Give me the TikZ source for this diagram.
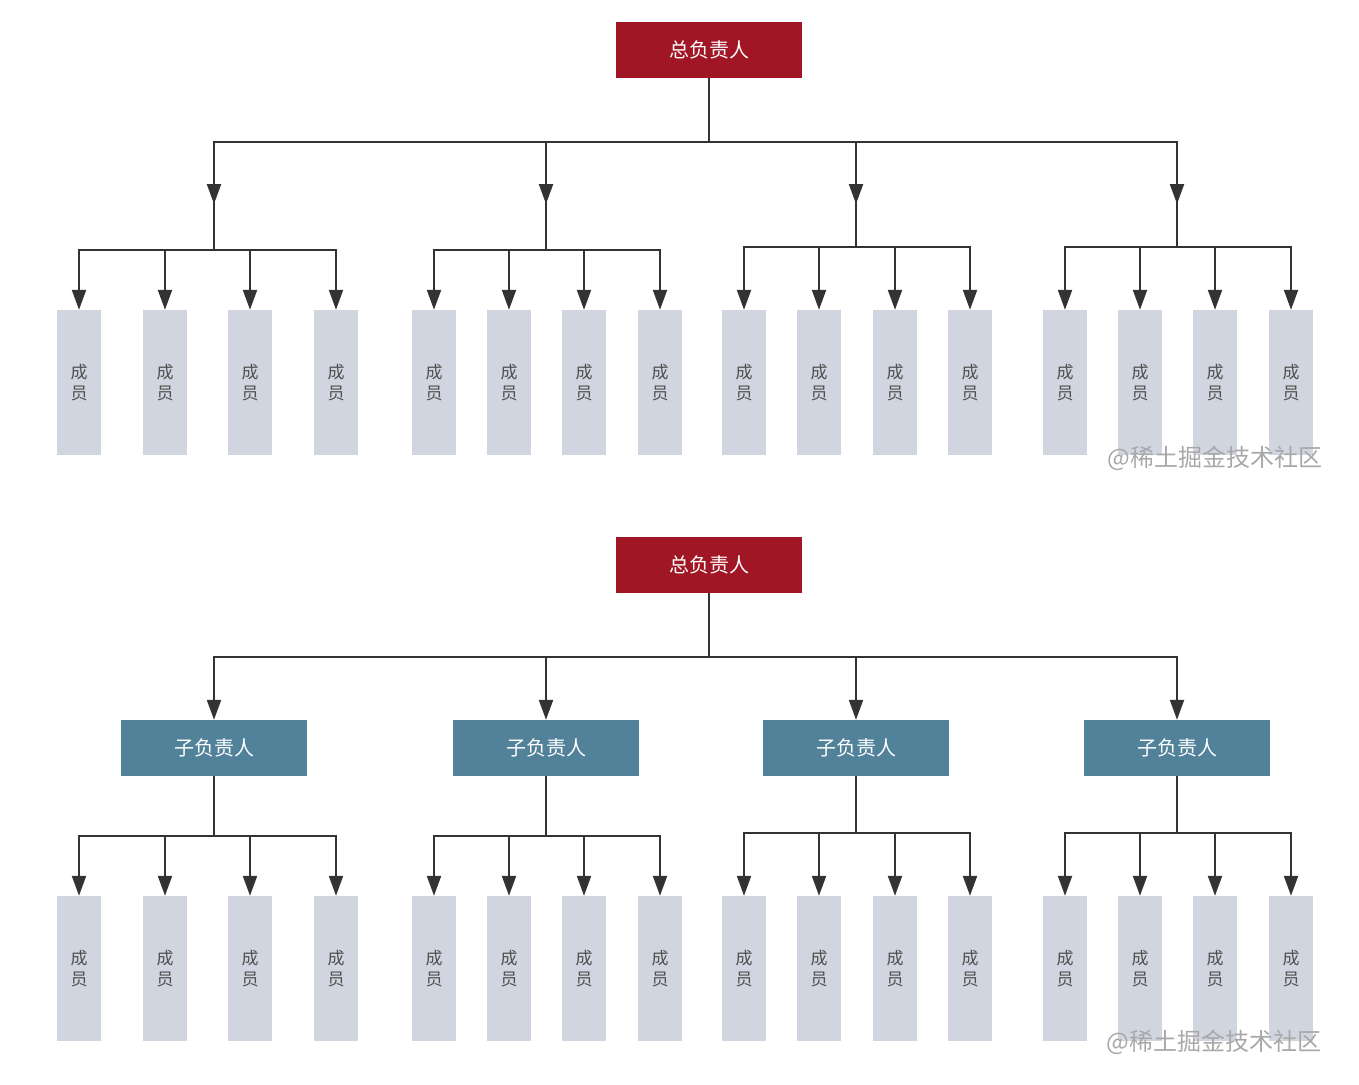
\documentclass[tikz,border=0pt]{standalone}
\usepackage{fontspec}
\newfontfamily\cjk{Noto Sans CJK SC}
\usetikzlibrary{arrows.meta}
\definecolor{rootred}{HTML}{A01624}
\definecolor{subteal}{HTML}{52819A}
\definecolor{memgray}{HTML}{D0D5DF}
\definecolor{linegray}{HTML}{333333}
\definecolor{memtext}{HTML}{505050}
\definecolor{wmark}{HTML}{A8A8A8}
\tikzset{
  rootbox/.style={fill=rootred, draw=none, minimum width=186pt, minimum height=56pt, inner sep=0pt, text=white, font=\cjk\fontsize{20}{24}\selectfont},
  subbox/.style={fill=subteal, draw=none, minimum width=186pt, minimum height=56pt, inner sep=0pt, text=white, font=\cjk\fontsize{20}{24}\selectfont},
  membox/.style={fill=memgray, draw=none, minimum width=44pt, minimum height=145pt, inner sep=0pt, text=memtext, align=center, font=\cjk\fontsize{17}{21}\selectfont},
  conn/.style={draw=linegray, line width=2.2pt, -{Triangle[width=14pt,length=20pt]}},
  plain/.style={draw=linegray, line width=2.2pt},
  wm/.style={text=wmark, font=\cjk\fontsize{24}{28}\selectfont, inner sep=0pt}
}
\begin{document}
\begin{tikzpicture}[x=1pt,y=1pt]
\useasboundingbox (0,0) rectangle (1359,-1084);
% ---------------- top diagram ----------------
\node[rootbox] (r1) at (709,-50) {总负责人};
\coordinate (s11) at (214,-204);
\coordinate (s12) at (546,-204);
\coordinate (s13) at (856,-204);
\coordinate (s14) at (1177,-204);
\foreach \i in {1,2,3,4}{
  \draw[conn] (r1.south) -- (709,-142) -| (s1\i);
  \draw[plain] ([yshift=12pt]s1\i) -- (s1\i);
}
% members top
\foreach \x [count=\k] in {79,165,250,336}{ \node[membox] (ma1\k) at (\x,-382.5) {成\\员}; }
\foreach \x [count=\k] in {434,509,584,660}{ \node[membox] (mb1\k) at (\x,-382.5) {成\\员}; }
\foreach \x [count=\k] in {744,819,895,970}{ \node[membox] (mc1\k) at (\x,-382.5) {成\\员}; }
\foreach \x [count=\k] in {1065,1140,1215,1291}{ \node[membox] (md1\k) at (\x,-382.5) {成\\员}; }
\foreach \k in {1,2,3,4}{
  \draw[conn] ([yshift=12pt]s11) -- (214,-250) -| (ma1\k.north);
  \draw[conn] ([yshift=12pt]s12) -- (546,-250) -| (mb1\k.north);
  \draw[conn] ([yshift=12pt]s13) -- (856,-247) -| (mc1\k.north);
  \draw[conn] ([yshift=12pt]s14) -- (1177,-247) -| (md1\k.north);
}
\node[wm] (w1) at (1215,-458) {@稀土掘金技术社区};
% ---------------- bottom diagram ----------------
\node[rootbox] (r2) at (709,-565) {总负责人};
\node[subbox] (s21) at (214,-748) {子负责人};
\node[subbox] (s22) at (546,-748) {子负责人};
\node[subbox] (s23) at (856,-748) {子负责人};
\node[subbox] (s24) at (1177,-748) {子负责人};
\foreach \i in {1,2,3,4}{
  \draw[conn] (r2.south) -- (709,-657) -| (s2\i.north);
}
\foreach \x [count=\k] in {79,165,250,336}{ \node[membox] (ma2\k) at (\x,-968.5) {成\\员}; }
\foreach \x [count=\k] in {434,509,584,660}{ \node[membox] (mb2\k) at (\x,-968.5) {成\\员}; }
\foreach \x [count=\k] in {744,819,895,970}{ \node[membox] (mc2\k) at (\x,-968.5) {成\\员}; }
\foreach \x [count=\k] in {1065,1140,1215,1291}{ \node[membox] (md2\k) at (\x,-968.5) {成\\员}; }
\foreach \k in {1,2,3,4}{
  \draw[conn] (s21.south) -- (214,-836) -| (ma2\k.north);
  \draw[conn] (s22.south) -- (546,-836) -| (mb2\k.north);
  \draw[conn] (s23.south) -- (856,-833) -| (mc2\k.north);
  \draw[conn] (s24.south) -- (1177,-833) -| (md2\k.north);
}
\node[wm] (w2) at (1214,-1042) {@稀土掘金技术社区};
\end{tikzpicture}
\end{document}
